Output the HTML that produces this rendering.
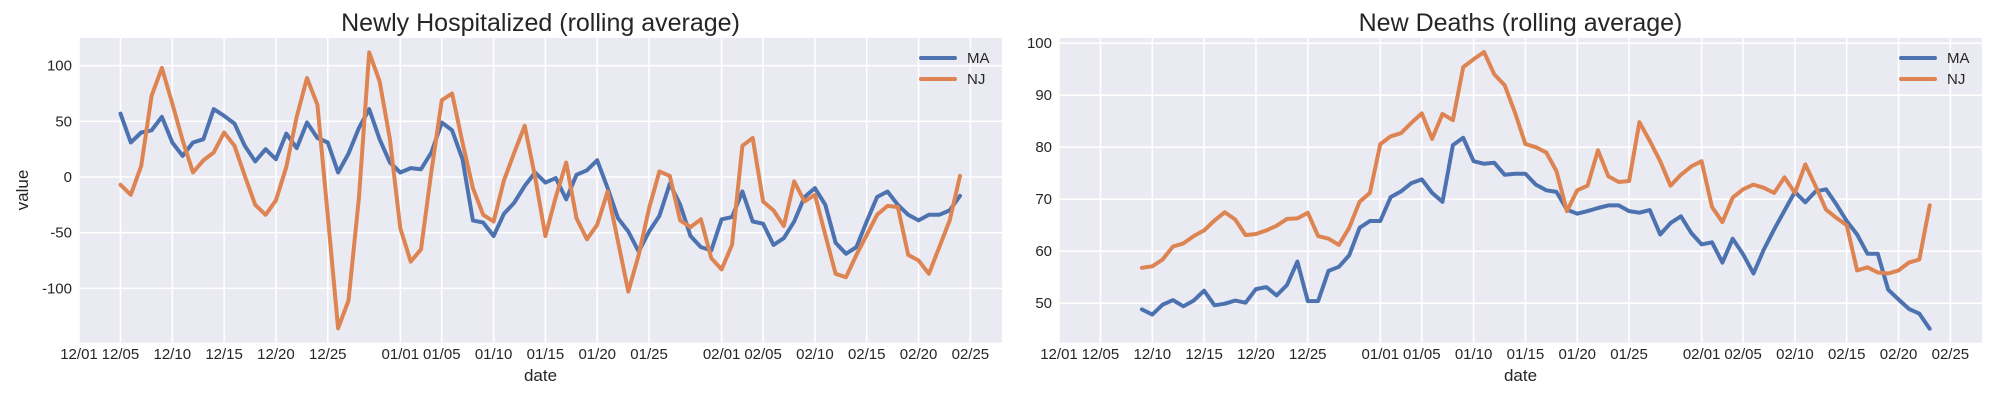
<!DOCTYPE html>
<html><head><meta charset="utf-8">
<style>
html,body{margin:0;padding:0;background:#fff;}
svg{display:block;font-family:"Liberation Sans",Arial,sans-serif;}
</style></head>
<body>
<svg id="chart" width="2000" height="400" viewBox="0 0 2000 400" xmlns="http://www.w3.org/2000/svg"></svg>
<script>
// ---- data ----
const tickLabels = ["12/01","12/05","12/10","12/15","12/20","12/25","01/01","01/05","01/10","01/15","01/20","01/25","02/01","02/05","02/10","02/15","02/20","02/25"];
const tickDays = [0,4,9,14,19,24,31,35,40,45,50,55,62,66,71,76,81,86];
const hospStartDay = 4;
const hospMA = [57,31,40,42,54,31,19,31,34,61,55,48,28,14,25,16,39,26,49,35,31,4,21,44,61,34,13,4,8,7,22,49,42,16,-39,-41,-53,-33,-23,-8,4,-5,-1,-20,2,6,15,-10,-37,-49,-67,-49,-35,-6,-25,-53,-63,-66,-38,-36,-13,-40,-42,-61,-55,-40,-18,-10,-25,-59,-69,-63,-40,-18,-13,-25,-34,-39,-34,-34,-30,-17];
const hospNJ = [-7,-16,10,73,98,66,33,4,15,22,40,28,1,-25,-34,-21,9,54,89,65,-35,-136,-111,-19,112,86,34,-46,-76,-65,5,69,75,31,-10,-34,-40,-3,22,46,0,-53,-18,13,-37,-56,-43,-13,-58,-103,-70,-28,5,1,-39,-45,-38,-73,-83,-61,28,35,-22,-30,-44,-4,-22,-16,-52,-87,-90,-70,-52,-34,-26,-27,-70,-75,-87,-63,-39,1];
const deathStartDay = 8;
const deathMA = [48.8,47.8,49.7,50.6,49.4,50.5,52.4,49.6,49.9,50.5,50.1,52.7,53.1,51.5,53.5,58,50.4,50.4,56.2,57,59.2,64.5,65.8,65.8,70.4,71.5,73.1,73.8,71.2,69.5,80.4,81.8,77.3,76.8,77,74.7,74.9,74.9,72.8,71.7,71.4,68,67.2,67.7,68.3,68.8,68.8,67.7,67.4,67.9,63.2,65.4,66.7,63.5,61.3,61.7,57.8,62.4,59.4,55.7,60.3,64.2,67.8,71.4,69.4,71.5,71.9,69,65.8,63.2,59.5,59.5,52.6,50.7,48.9,48,45.1];
const deathNJ = [56.8,57.1,58.4,60.9,61.5,62.9,64,65.9,67.5,66.1,63.1,63.3,64,64.9,66.2,66.3,67.4,62.9,62.4,61.2,64.5,69.5,71.2,80.6,82.1,82.7,84.7,86.5,81.6,86.4,85.2,95.4,96.9,98.3,94,91.9,86.6,80.6,80,79,75.4,67.7,71.7,72.6,79.4,74.4,73.3,73.5,84.8,81.2,77.3,72.6,74.7,76.3,77.3,68.5,65.6,70.3,71.9,72.8,72.2,71.2,74.2,71.2,76.7,72.5,68,66.4,65,56.3,56.9,55.9,55.7,56.3,57.8,58.4,68.8];
const hospYTicks = [-100,-50,0,50,100];
const deathYTicks = [50,60,70,80,90,100];
const seriesNames = ["MA","NJ"];
const seriesColors = ["#4c72b0","#dd8452"];

const NS = "http://www.w3.org/2000/svg";
const svg = document.getElementById("chart");
function mk(tag, attrs, parent, text){
  const e = document.createElementNS(NS, tag);
  for (const k in attrs) e.setAttribute(k, attrs[k]);
  if (text !== undefined) e.textContent = text;
  (parent||svg).appendChild(e);
  return e;
}

function panel(cfg){
  const g = mk("g", {});
  
  
  const L=cfg.left,R=cfg.right,T=38,B=342.7;
  const xs = d => L + (d - 0) * (R - L) / 89.05;
  const ys = v => T + (cfg.ymax - v) * (B - T) / (cfg.ymax - cfg.ymin);
  const bg = mk("rect",{x:L,y:T,width:R-L,height:B-T,fill:"#eaeaf2"},g);
  
  
  cfg.yticks.forEach(v=>{
    const y=ys(v);
    const gl = mk("line",{x1:L,x2:R,y1:y,y2:y,stroke:"#fff","stroke-width":1.6},g);
    
    
    const t = mk("text",{x:L-7,y:y+5,"text-anchor":"end","font-size":15,fill:"#262626"},g,String(v));
    
    
  });
  tickDays.forEach((d,i)=>{
    const x=xs(d);
    const gl = mk("line",{x1:x,x2:x,y1:T,y2:B,stroke:"#fff","stroke-width":1.6},g);
    
    
    const t = mk("text",{x:x,y:359,"text-anchor":"middle","font-size":15,fill:"#262626"},g,tickLabels[i]);
    
    
  });
  cfg.series.forEach((arr,si)=>{
    const pts = arr.map((v,i)=>xs(cfg.start+i).toFixed(1)+","+ys(v).toFixed(1)).join(" ");
    const pl = mk("polyline",{points:pts,fill:"none",stroke:seriesColors[si],"stroke-width":4,"stroke-linejoin":"round","stroke-linecap":"round"},g);
    
    
  });
  const tt = mk("text",{x:(L+R)/2,y:31,"text-anchor":"middle","font-size":25,fill:"#262626"},g,cfg.title);
  
  
  const xl = mk("text",{x:(L+R)/2,y:381,"text-anchor":"middle","font-size":17,fill:"#262626"},g,"date");
  
  
  if (cfg.ylabel){
    const yl = mk("text",{x:0,y:0,"text-anchor":"middle","font-size":17,fill:"#262626",transform:"translate(28,190) rotate(-90)"},g,cfg.ylabel);
    
    
  }
  seriesNames.forEach((n,si)=>{
    const y = 58 + si*21;
    const lg = mk("g",{},g);
    
    
    mk("line",{x1:R-81,x2:R-47,y1:y,y2:y,stroke:seriesColors[si],"stroke-width":4,"stroke-linecap":"round"},lg);
    mk("text",{x:R-35,y:y+5,"font-size":15,fill:"#262626"},lg,n);
  });
}

panel({name:"hospitalized-chart",left:79,right:1002,ymin:-148.9,ymax:124.9,yticks:hospYTicks,start:hospStartDay,series:[hospMA,hospNJ],title:"Newly Hospitalized (rolling average)",ylabel:"value"});
panel({name:"deaths-chart",left:1059,right:1982,ymin:42.4,ymax:101.0,yticks:deathYTicks,start:deathStartDay,series:[deathMA,deathNJ],title:"New Deaths (rolling average)",ylabel:null});
</script>
</body></html>
